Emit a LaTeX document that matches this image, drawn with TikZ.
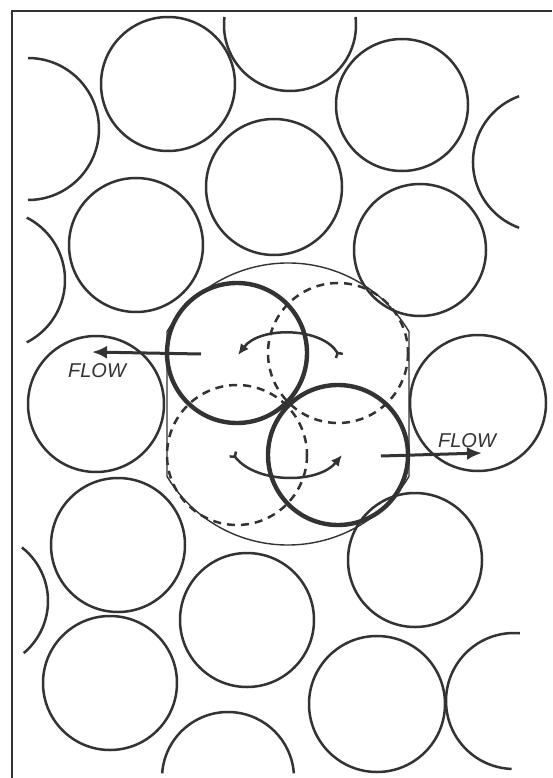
\documentclass[tikz,border=0pt]{standalone}
\usepackage{fontspec}
\newfontfamily\handfont{Liberation Sans}
\usetikzlibrary{arrows.meta}
\definecolor{ink}{HTML}{333333}
\tikzset{
  ball/.style={draw=ink, line width=2.5pt},
  thickball/.style={draw=ink, line width=4.4pt},
  dashball/.style={draw=ink, line width=2.5pt, dash pattern=on 8pt off 6pt},
  shell/.style={draw=ink, line width=1.4pt},
  frameline/.style={draw=ink, line width=2.6pt},
  flowarrow/.style={draw=ink, line width=3pt, -{Latex[length=15pt,width=13pt]}},
  spinarrow/.style={draw=ink, line width=2.5pt, {Straight Barb[reversed,length=3.5pt,width=8pt]}-{Latex[length=11pt,width=10pt]}},
  flowtext/.style={text=ink, font=\handfont\itshape\fontsize{20}{20}\selectfont, inner sep=0pt}
}
\begin{document}
\begin{tikzpicture}[x=1pt,y=-1pt]
\useasboundingbox (0,0) rectangle (552,778);
% frame
\coordinate (fTR) at (552,11);
\coordinate (fTL) at (12,11);
\coordinate (fBL) at (12,778);
\draw[frameline] (fTR) -- (fTL) -- (fBL);

% full circles
\foreach \n/\cx/\cy/\r in {c2/168/84/67, c4/402/105/66, c6/274/187/68, c8/136/245/67, c9/420/250/66,
  c10/96/404/68, c11/478/403/68, c17/118/545/67, c19/110/683/67, c20/247/620/67,
  c22/415/560/67, c23/377/704/68}{
  \coordinate (\n) at (\cx,\cy);
  \draw[ball] (\n) circle[radius=\r];
}

% partial arcs at the edges
\coordinate (a1) at (28,129);
\draw[ball] (a1) ++(-90:71) arc[start angle=-90, end angle=90, radius=71];
\coordinate (a3) at (290,25);
\draw[ball] (a3) ++(187:66) arc[start angle=187, end angle=-7, radius=66];
\coordinate (a5) at (543,162);
\draw[ball] (a5) ++(250:70) arc[start angle=250, end angle=110, radius=70];
\coordinate (a7) at (-5,280);
\draw[ball] (a7) ++(-63:70) arc[start angle=-63, end angle=63, radius=70];
\coordinate (a18) at (-20,601);
\draw[ball] (a18) ++(-52:68) arc[start angle=-52, end angle=50, radius=68];
\coordinate (a21) at (228,778);
\draw[ball] (a21) ++(184:66) arc[start angle=184, end angle=356, radius=66];
\coordinate (a24) at (514,701);
\draw[ball] (a24) ++(275:68) arc[start angle=275, end angle=92, radius=68];

% central group
\coordinate (ctr) at (288,404);
\draw[shell] (ctr) ++(210.9:141) arc[start angle=210.9, end angle=329.1, radius=141]
  -- ++(0,144.8) arc[start angle=30.9, end angle=149.1, radius=141] -- cycle;
\coordinate (tUL) at (237,353);
\coordinate (tLR) at (338,455);
\coordinate (dUR) at (338,353);
\coordinate (dLL) at (237,455);
\draw[dashball] (dUR) circle[radius=70];
\draw[dashball] (dLL) circle[radius=70];
\draw[thickball] (tUL) circle[radius=70];
\draw[thickball] (tLR) circle[radius=70];

% rotation arrows
\coordinate (sTa) at (340,357);
\coordinate (sTb) at (238,355);
\draw[spinarrow] (sTa) .. controls (322,327) and (260,326) .. (sTb);
\coordinate (sBa) at (232,453);
\coordinate (sBb) at (342,455);
\draw[spinarrow] (sBa) .. controls (256,484) and (318,484) .. (sBb);

% flow arrows
\coordinate (fLa) at (201,354);
\coordinate (fLb) at (92,352);
\draw[flowarrow] (fLa) -- (fLb);
\coordinate (fRa) at (381,456);
\coordinate (fRb) at (482,453);
\draw[flowarrow] (fRa) -- (fRb);
\node[flowtext] (flowL) at (97,371) {FLOW};
\node[flowtext] (flowR) at (467,441) {FLOW};
\end{tikzpicture}
\end{document}
